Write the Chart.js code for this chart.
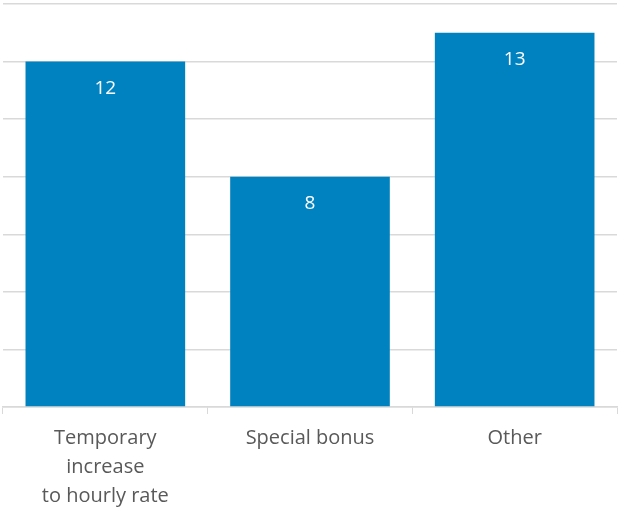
<!DOCTYPE html>
<html>
<head>
<meta charset="utf-8">
<script src="https://cdn.jsdelivr.net/npm/chart.js@4"></script>
<style>
  html, body { margin: 0; padding: 0; background: #fff; }
  #wrap { width: 618px; height: 508px; }
</style>
</head>
<body>
<div id="wrap"><canvas id="chart-1"></canvas></div>
<script>
const categories = [
    ['Temporary', 'increase', 'to hourly rate'],
    'Special bonus',
    'Other'
];
const counts = [12, 8, 13];
const yTicks = [0, 2, 4, 6, 8, 10, 12, 14];

// white value printed just under the top of each bar
const barLabels = {
    id: 'barLabels',
    afterDatasetsDraw(chart) {
        const ctx = chart.ctx;
        const meta = chart.getDatasetMeta(0);
        ctx.save();
        ctx.fillStyle = '#ffffff';
        ctx.font = '19px "Open Sans", sans-serif';
        ctx.textAlign = 'center';
        ctx.textBaseline = 'middle';
        meta.data.forEach((bar, i) => {
            ctx.fillText(String(counts[i]), bar.x, bar.y + 27);
        });
        ctx.restore();
    }
};

const ctx = document.getElementById('chart-1').getContext('2d');

var myBarChart = new Chart(ctx, {
    type: 'bar',
    data: {
        labels: categories,
        datasets: [{
            data: counts,
            backgroundColor: '#0082c0',
            barPercentage: 0.78,
            categoryPercentage: 1
        }]
    },
    plugins: [barLabels],
    options: {
        responsive: true,
        maintainAspectRatio: false,
        animation: false,
        layout: {
            padding: { left: 3, right: 1, top: 4, bottom: 0 }
        },
        plugins: {
            legend: { display: false },
            tooltip: { enabled: false }
        },
        scales: {
            x: {
                afterFit: axis => { axis.height = 101; },
                grid: {
                    offset: true,
                    drawOnChartArea: false,
                    drawTicks: true,
                    tickLength: 7,
                    color: '#d9d9d9'
                },
                border: {
                    display: true,
                    color: '#d9d9d9',
                    width: 1.5
                },
                ticks: {
                    color: '#595959',
                    padding: 10,
                    maxRotation: 0,
                    font: { family: '"Open Sans", sans-serif', size: 20, lineHeight: 1.45 }
                }
            },
            y: {
                min: yTicks[0],
                max: yTicks[yTicks.length - 1],
                afterBuildTicks: axis => {
                    axis.ticks = yTicks.map(v => ({ value: v }));
                },
                afterFit: axis => { axis.width = 0; },
                ticks: { display: false },
                grid: {
                    drawTicks: false,
                    color: '#d9d9d9',
                    lineWidth: 1.5
                },
                border: { display: false }
            }
        }
    }
});
</script>
</body>
</html>
